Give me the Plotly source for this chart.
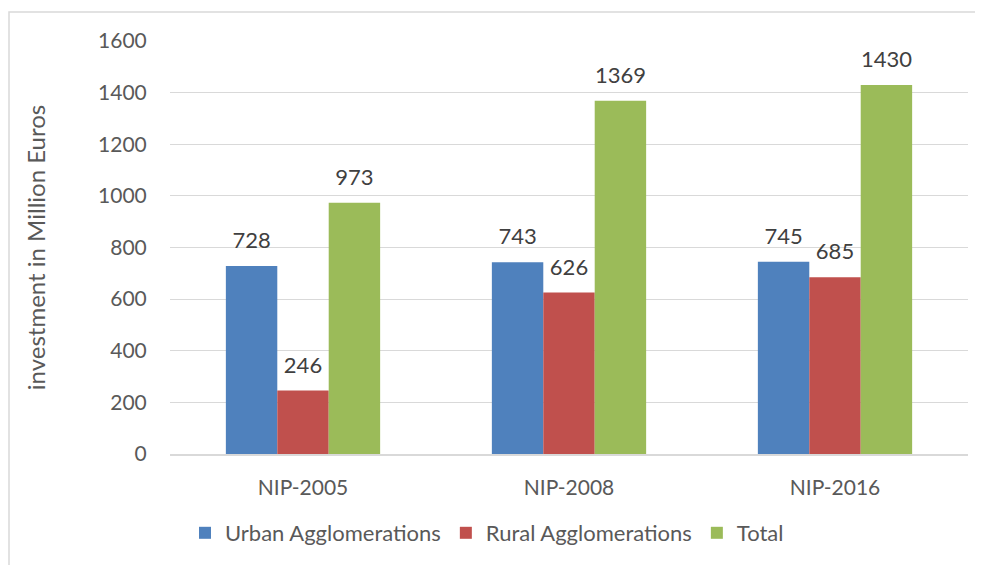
import plotly.graph_objects as go

categories = ["NIP-2005", "NIP-2008", "NIP-2016"]
urban = [728, 743, 745]
rural = [246, 626, 685]
total = [973, 1369, 1430]
series_names = ["Urban Agglomerations", "Rural Agglomerations", "Total"]
colors = ["#4f81bd", "#c0504d", "#9bbb59"]
y_ticks = [0, 200, 400, 600, 800, 1000, 1200, 1400, 1600]

FONT = "Lato, 'Open Sans', sans-serif"

fig = go.Figure()
for i, (name, vals, col) in enumerate(zip(series_names, [urban, rural, total], colors)):
    fig.add_trace(go.Bar(
        x=categories, y=vals, name=name, marker_color=col,
        marker_line_width=0, offsetgroup=str(i),
    ))
for i, (name, vals) in enumerate(zip(series_names, [urban, rural, total])):
    fig.add_trace(go.Scatter(
        x=categories, y=vals, mode="markers+text", showlegend=False,
        offsetgroup=str(i), hoverinfo="skip",
        marker=dict(size=18, opacity=0),
        text=[str(v) for v in vals], textposition="top center",
        textfont=dict(size=22, color="#404040", family=FONT),
        cliponaxis=False,
    ))

# page body adds an 8px offset
OFF = 8
W, H = 983 - OFF, 565 - OFF
L, R, T, B = 170 - OFF, 15, 41 - OFF, 110
pw, ph = W - L - R, H - T - B

def px_x(x):
    return (x - OFF - L) / pw

def px_y(y):
    return (H - B - (y - OFF)) / ph

fig.add_shape(type="rect", xref="paper", yref="paper",
              x0=px_x(9), x1=px_x(995), y0=px_y(580), y1=px_y(12),
              line=dict(color="#d9d9d9", width=1.5), fillcolor="rgba(0,0,0,0)",
              layer="below")

fig.update_layout(
    width=W, height=H,
    margin=dict(l=L, r=R, t=T, b=B),
    paper_bgcolor="white", plot_bgcolor="white",
    barmode="group", bargap=0.42, bargroupgap=0,
    scattermode="group", scattergap=0.42,
    font=dict(family=FONT, color="#595959", size=21),
    showlegend=True,
    legend=dict(orientation="h", x=px_x(185), xanchor="left", y=px_y(533), yanchor="middle",
                font=dict(size=22, color="#595959"), traceorder="normal"),
    xaxis=dict(showgrid=False, ticks="outside", ticklen=14, tickcolor="rgba(0,0,0,0)",
               showline=True, linecolor="#d9d9d9", linewidth=1.5,
               tickfont=dict(size=21, color="#595959")),
    yaxis=dict(range=[0, 1600], tickvals=y_ticks, showgrid=True, gridcolor="#d9d9d9",
               gridwidth=1, zeroline=False, ticks="outside", ticklen=18,
               tickcolor="rgba(0,0,0,0)",
               tickfont=dict(size=21, color="#595959"),
               title=dict(text="investment in Million Euros", standoff=45,
                          font=dict(size=24, color="#595959"))),
)

fig.write_html("out.html")
